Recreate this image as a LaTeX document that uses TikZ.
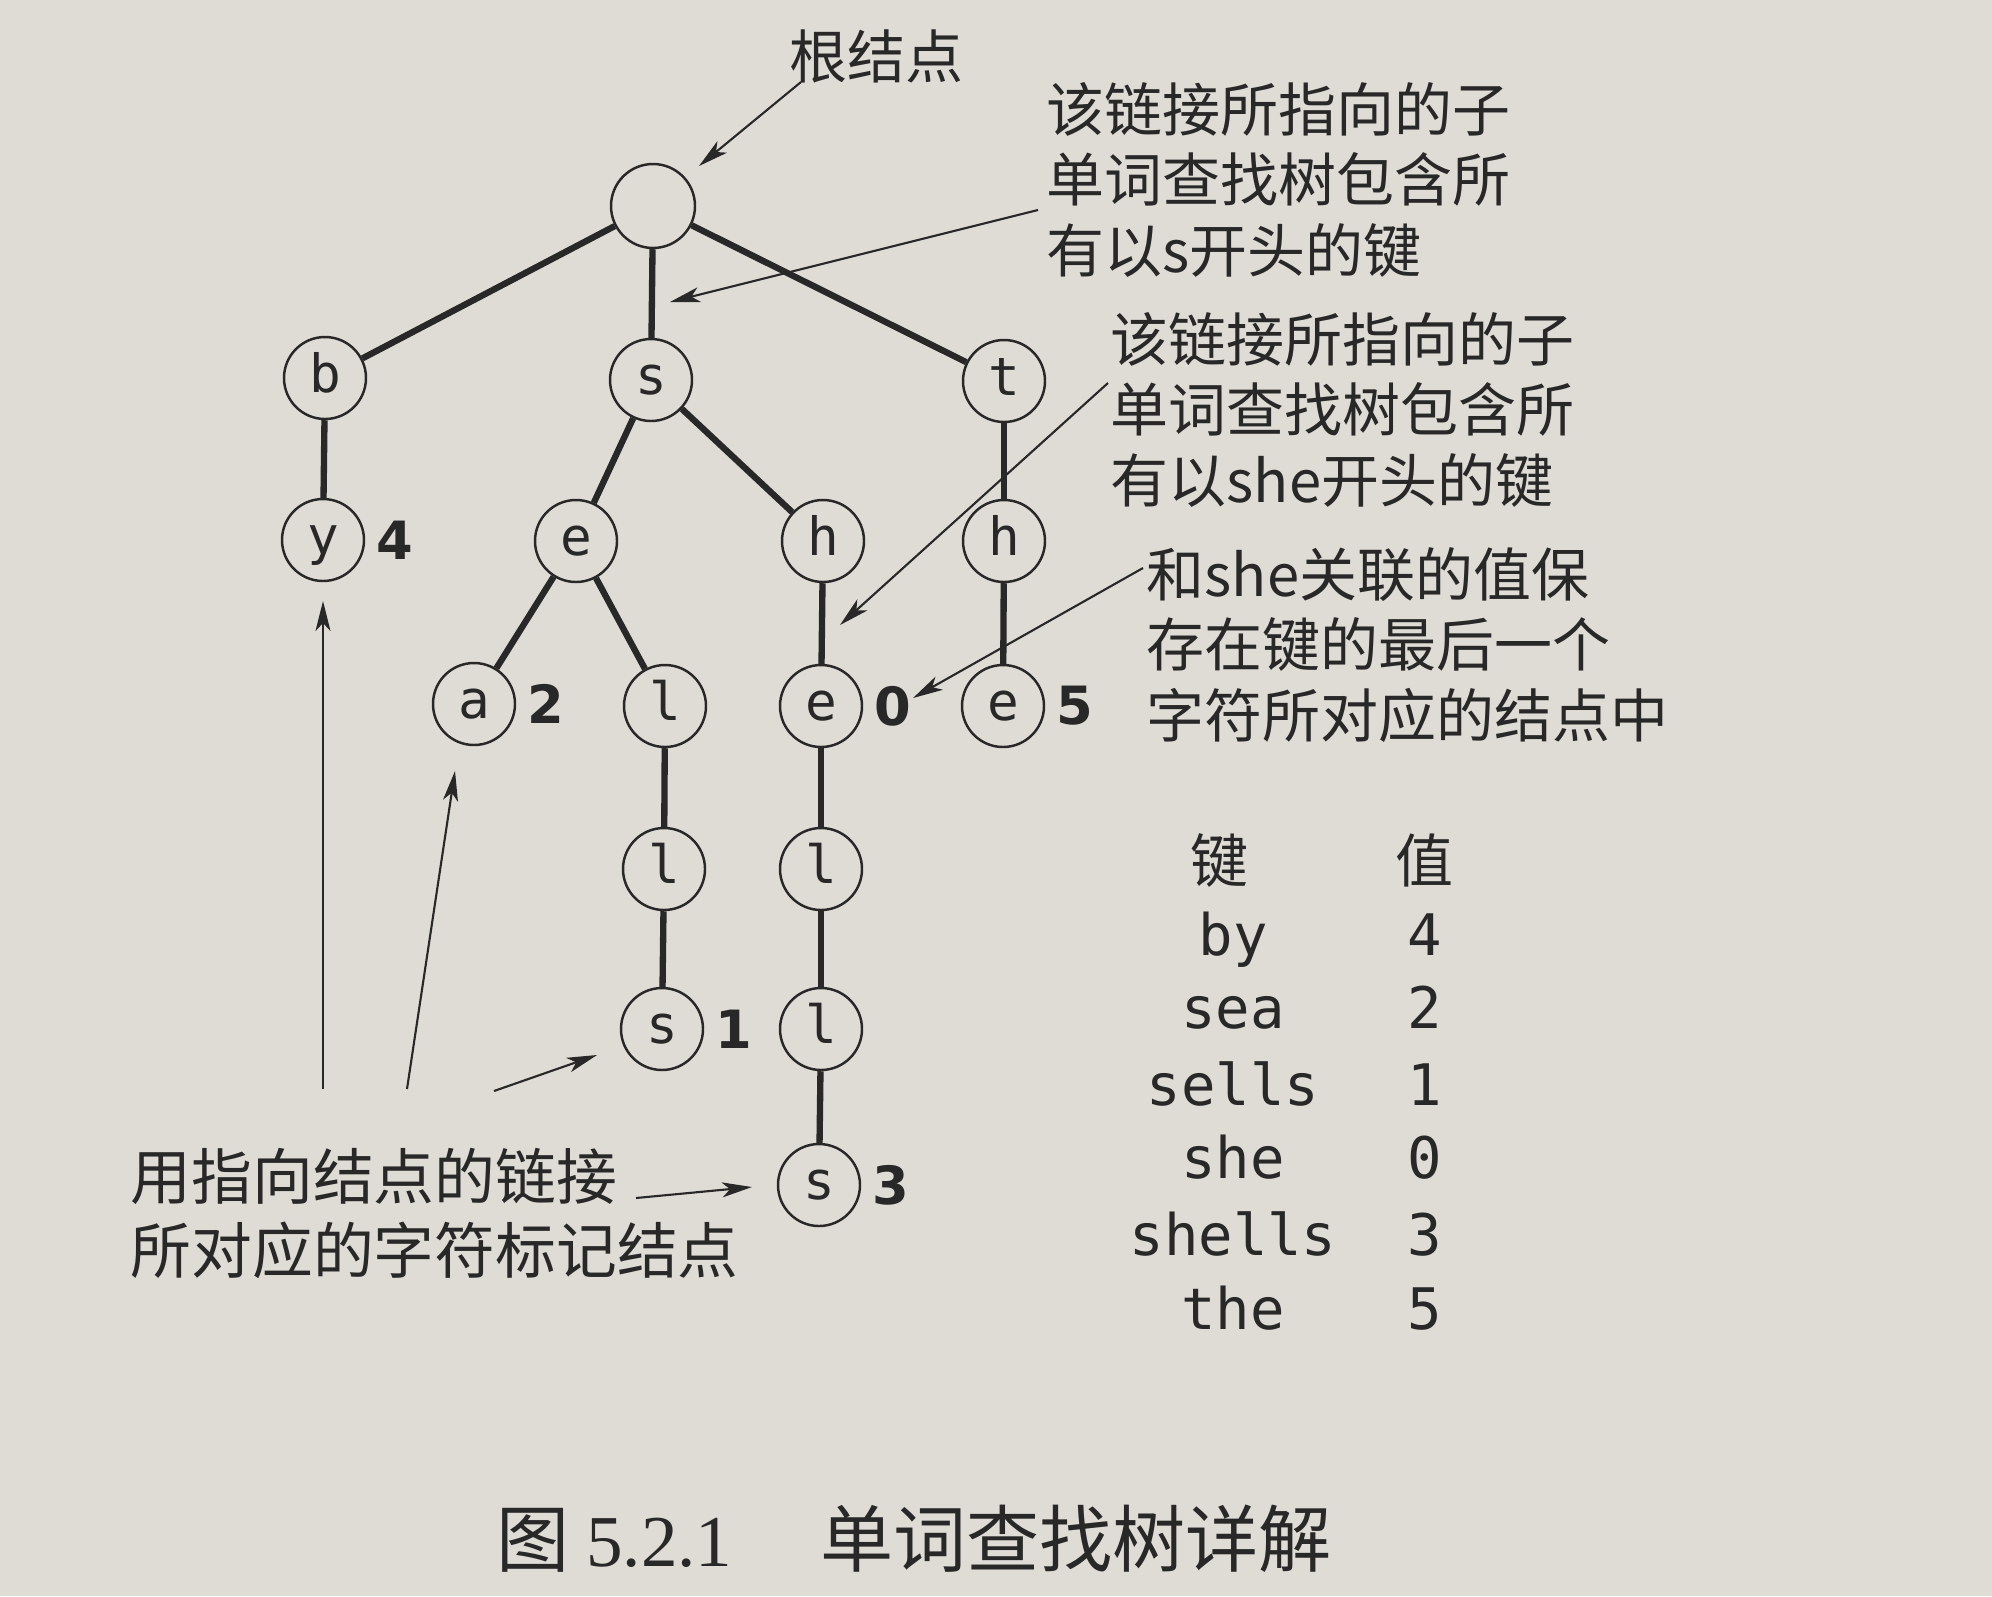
\documentclass[tikz,border=0pt]{standalone}
\usepackage{fontspec}
\newfontfamily\cnfont{Noto Sans CJK SC}
\newfontfamily\keyfont{DejaVu Sans Mono}
\newfontfamily\numfont{DejaVu Sans}
\newfontfamily\capfont{Liberation Serif}
\usetikzlibrary{arrows.meta,positioning}
\definecolor{paper}{RGB}{222,220,213}
\definecolor{ink}{RGB}{40,40,40}
\tikzset{
  >={Stealth[length=3mm,width=1.5mm,inset=0.8mm]},
  trie/.style={circle,draw=ink,line width=0.7pt,minimum size=8.2mm,inner sep=0pt,
    text=ink,font=\keyfont\fontsize{15}{15}\selectfont,text height=11.2pt,text depth=3.2pt},
  link/.style={draw=ink,line width=1.8pt},
  pointer/.style={->,draw=ink,line width=0.6pt},
  val/.style={text=ink,font=\numfont\bfseries\fontsize{15}{15}\selectfont,inner sep=1pt},
  note/.style={text=ink,font=\cnfont\fontsize{16.5}{20}\selectfont,align=left,
    inner sep=0pt,anchor=base west},
  cell/.style={text=ink,font=\keyfont\fontsize{16.3}{16.3}\selectfont,inner sep=0pt,anchor=base},
}
\begin{document}
\begin{tikzpicture}
  \fill[paper] (0,0) rectangle (19.92,-15.96);
  % trie nodes
  \node[trie,minimum size=8.4mm] (root) at (6.53,-2.06) {};
  \node[trie] (b) at (3.25,-3.78) {b};
  \node[trie] (s) at (6.51,-3.80) {s};
  \node[trie] (t) at (10.04,-3.81) {t};
  \node[trie] (by) at (3.23,-5.40) {y};
  \node[trie] (se) at (5.76,-5.41) {e};
  \node[trie] (sh) at (8.23,-5.41) {h};
  \node[trie] (th) at (10.04,-5.41) {h};
  \node[trie] (sea) at (4.74,-7.04) {a};
  \node[trie] (sel) at (6.65,-7.06) {l};
  \node[trie] (she) at (8.21,-7.06) {e};
  \node[trie] (the) at (10.03,-7.06) {e};
  \node[trie] (sell) at (6.64,-8.69) {l};
  \node[trie] (shel) at (8.21,-8.69) {l};
  \node[trie] (sells) at (6.62,-10.29) {s};
  \node[trie] (shell) at (8.21,-10.29) {l};
  \node[trie] (shells) at (8.19,-11.85) {s};
  % values
  \node[val,right=0.7mm of by] (vby) {4};
  \node[val,right=0.7mm of sea] (vsea) {2};
  \node[val,right=0.7mm of sells] (vsells) {1};
  \node[val,right=0.7mm of she] (vshe) {0};
  \node[val,right=0.7mm of shells] (vshells) {3};
  \node[val,right=0.7mm of the] (vthe) {5};
  % links
  \draw[link] (root) -- (b);
  \draw[link] (root) -- (s);
  \draw[link] (root) -- (t);
  \draw[link] (b) -- (by);
  \draw[link] (s) -- (se);
  \draw[link] (s) -- (sh);
  \draw[link] (t) -- (th);
  \draw[link] (se) -- (sea);
  \draw[link] (se) -- (sel);
  \draw[link] (sh) -- (she);
  \draw[link] (th) -- (the);
  \draw[link] (sel) -- (sell);
  \draw[link] (sell) -- (sells);
  \draw[link] (she) -- (shel);
  \draw[link] (shel) -- (shell);
  \draw[link] (shell) -- (shells);
  % notes (anchored at the baseline of their last line)
  \node[note] (rootnote) at (7.89,-0.78) {根结点};
  \node[note] (snote) at (10.46,-2.72) {该链接所指向的子\\单词查找树包含所\\有以s开头的键};
  \node[note] (shenote) at (11.10,-5.02) {该链接所指向的子\\单词查找树包含所\\有以she开头的键};
  \node[note] (valnote) at (11.46,-7.37) {和she关联的值保\\存在键的最后一个\\字符所对应的结点中};
  \node[note,font=\cnfont\fontsize{17.3}{21}\selectfont] (charnote) at (1.30,-12.73)
    {用指向结点的链接\\所对应的字符标记结点};
  % pointers
  \coordinate (p1a) at (8.01,-0.82); \coordinate (p1b) at (6.99,-1.66);
  \coordinate (p2a) at (10.38,-2.10); \coordinate (p2b) at (6.70,-3.02);
  \coordinate (p3a) at (11.08,-3.83); \coordinate (p3b) at (8.40,-6.25);
  \coordinate (p4a) at (11.43,-5.68); \coordinate (p4b) at (9.13,-6.98);
  \coordinate (p5a) at (3.23,-10.89); \coordinate (p5b) at (3.23,-6.01);
  \coordinate (p6a) at (4.07,-10.89); \coordinate (p6b) at (4.55,-7.71);
  \coordinate (p7a) at (4.94,-10.91); \coordinate (p7b) at (5.97,-10.55);
  \coordinate (p8a) at (6.36,-11.98); \coordinate (p8b) at (7.52,-11.87);
  \foreach \i in {1,...,8} \draw[pointer] (p\i a) -- (p\i b);
  % key/value table
  \node[note,anchor=base] (keyhead) at (12.19,-8.82) {键};
  \node[note,anchor=base] (valhead) at (14.24,-8.82) {值};
  \foreach \k/\v/\yy [count=\i] in {by/4/9.55,sea/2/10.28,sells/1/11.05,she/0/11.78,shells/3/12.55,the/5/13.29} {
    \node[cell] (key\i) at (12.33,-\yy) {\k};
    \node[cell] (num\i) at (14.25,-\yy) {\v};
  }
  % caption
  \node[anchor=base west,inner sep=0pt,text=ink,font=\cnfont\fontsize{20.8}{25}\selectfont]
    (caption) at (4.96,-15.66) {图 {\capfont 5.2.1}\hspace{1.2em}单词查找树详解};
\end{tikzpicture}
\end{document}
